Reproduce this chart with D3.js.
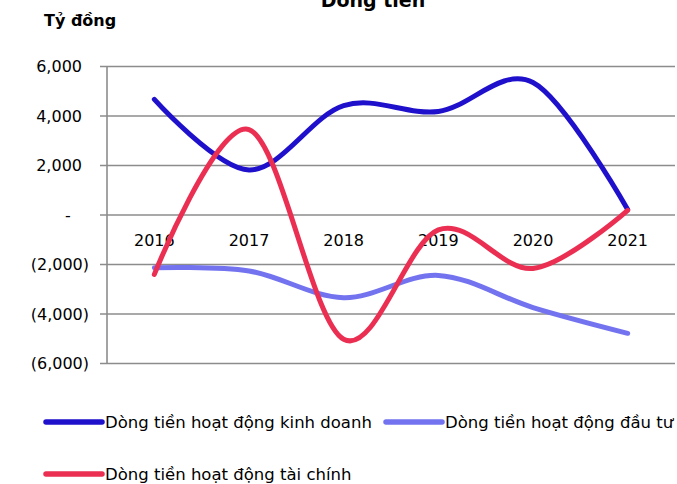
<!DOCTYPE html>
<html>
<head>
<meta charset="utf-8">
<script src="https://cdn.jsdelivr.net/npm/d3@7"></script>
<style>
  body { margin: 0; background: #fff; }
  text { font-family: "DejaVu Sans", sans-serif; fill: #000; }
</style>
</head>
<body>
<script>
var years = ["2016", "2017", "2018", "2019", "2020", "2021"];
var kinhDoanh = [4650, 1800, 4400, 4160, 5330, 200];
var dauTu = [-2150, -2280, -3360, -2460, -3760, -4800];
var taiChinh = [-2420, 3430, -5040, -620, -2180, 170];
var yTicks = [6000, 4000, 2000, 0, -2000, -4000, -6000];
var seriesNames = ["Dòng tiền hoạt động kinh doanh", "Dòng tiền hoạt động đầu tư", "Dòng tiền hoạt động tài chính"];
var colors = ["#1f10cc", "#7373f0", "#ea2f52"];

var width = 677, height = 484;
var margin = {left: 107, right: 2, top: 66, bottom: 121};

var svg = d3.select("body").append("svg").attr("width", width).attr("height", height);

//SCALES
var xScale = d3.scaleBand().domain(years).range([margin.left, width - margin.right]);
var yScale = d3.scaleLinear().domain([-6000, 6000]).range([height - margin.bottom, margin.top]);

//GRID + Y AXIS
var fmt = d3.format(",");
var yAxis = d3.axisLeft(yScale)
    .tickValues(yTicks)
    .tickSize(-(width - margin.right - margin.left))
    .tickPadding(0)
    .tickFormat(function(d){ return d === 0 ? "-" : d < 0 ? "(" + fmt(-d) + ")" : fmt(d); });

var gy = svg.append("g").attr("transform", "translate(" + margin.left + ",0)").call(yAxis);
gy.select(".domain").remove();
gy.selectAll(".tick line").attr("x1", -7).attr("stroke", "#8c8c8c").attr("stroke-width", 1.6);
gy.selectAll(".tick text")
    .attr("font-size", 16)
    .attr("dy", "0.35em")
    .attr("x", function(d){ return d === 0 ? -39 : d < 0 ? -18 : -25; })
    .attr("text-anchor", function(d){ return d === 0 ? "middle" : "end"; });

svg.append("line")
    .attr("x1", margin.left).attr("x2", margin.left)
    .attr("y1", yScale(6000)).attr("y2", yScale(-6000))
    .attr("stroke", "#8c8c8c").attr("stroke-width", 1.6);

//CATEGORY LABELS (next to zero line)
svg.append("g").selectAll("text").data(years).enter().append("text")
    .attr("x", function(d){ return xScale(d) + xScale.bandwidth() / 2; })
    .attr("y", yScale(0) + 31)
    .attr("text-anchor", "middle")
    .attr("font-size", 16)
    .text(function(d){ return d; });

//LINES
var line = d3.line()
    .x(function(d, i){ return xScale(years[i]) + xScale.bandwidth() / 2; })
    .y(function(d){ return yScale(d); })
    .curve(d3.curveCardinal.tension(0));

[kinhDoanh, dauTu, taiChinh].forEach(function(s, i){
    svg.append("path")
        .attr("d", line(s))
        .attr("fill", "none")
        .attr("stroke", colors[i])
        .attr("stroke-width", 5)
        .attr("stroke-linecap", "round")
        .attr("stroke-linejoin", "round");
});

//TITLES
svg.append("text").attr("x", 373).attr("y", 7).attr("text-anchor", "middle")
    .attr("font-size", 19).attr("font-weight", "bold").text("Dòng tiền");
svg.append("text").attr("x", 44).attr("y", 26)
    .attr("font-size", 16).attr("font-weight", "bold").text("Tỷ đồng");

//LEGEND
var legendPos = [{x: 46, y: 422}, {x: 386, y: 422}, {x: 46, y: 474}];
var legend = svg.append("g").selectAll("g").data(seriesNames).enter().append("g")
    .attr("transform", function(d, i){ return "translate(" + legendPos[i].x + "," + legendPos[i].y + ")"; });
legend.append("line")
    .attr("x1", 0).attr("x2", 56)
    .attr("stroke", function(d, i){ return colors[i]; })
    .attr("stroke-width", 5.5).attr("stroke-linecap", "round");
legend.append("text")
    .attr("x", 59).attr("dy", "0.36em")
    .attr("font-size", 16.5)
    .text(function(d){ return d; });
</script>
</body>
</html>
